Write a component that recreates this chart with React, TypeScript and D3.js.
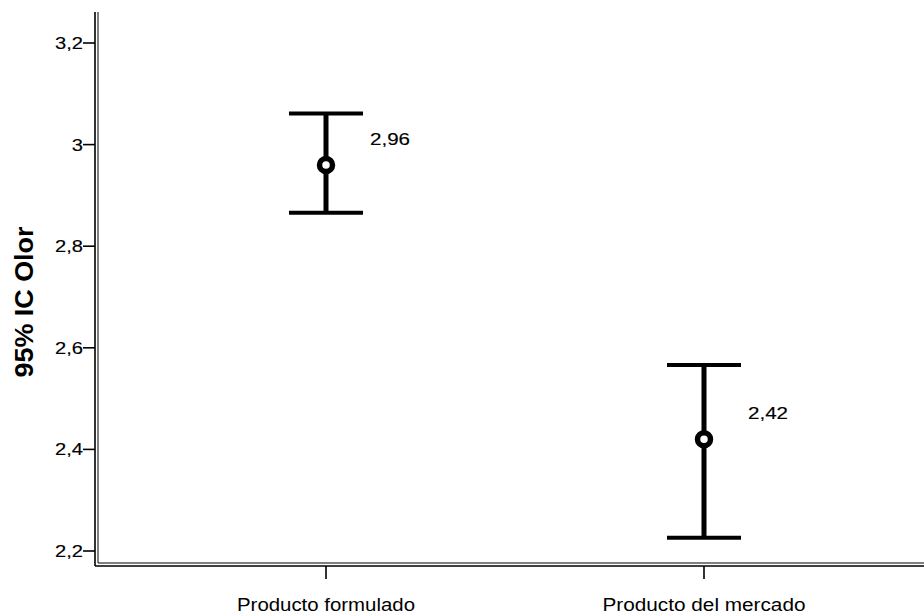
import React, { useEffect, useRef } from 'react';
import * as d3 from 'd3';

const categories = ['Producto formulado', 'Producto del mercado'];
const means = [2.96, 2.42];
const upper = [3.061, 2.566];
const lower = [2.866, 2.226];
const yTicks = [2.2, 2.4, 2.6, 2.8, 3.0, 3.2];

const FONT = 'Arial, "Liberation Sans", sans-serif';

export default function App() {
  const ref = useRef<SVGSVGElement>(null);

  useEffect(() => {
    const svg = d3.select(ref.current);
    svg.selectAll('*').remove();

    const W = 924;
    const axisX = 97;
    const axisY = 565;
    const top = 12;

    const y = d3.scaleLinear().domain([2.2, 3.2]).range([551, 43]);
    const x = d3.scalePoint<string>().domain(categories).range([137, 893]).padding(0.5);

    const g = svg.append('g');

    // stretch text to a target width (the scanned original has wide glyphs)
    const fitTo = (t: d3.Selection<SVGTextElement, unknown, null, undefined>, w: number) => {
      t.attr('textLength', w).attr('lengthAdjust', 'spacingAndGlyphs');
    };
    const widen = (t: d3.Selection<SVGTextElement, unknown, null, undefined>, k: number) => {
      fitTo(t, t.node()!.getComputedTextLength() * k);
    };

    // axes (double lines)
    g.append('line').attr('x1', axisX - 2).attr('x2', axisX - 2).attr('y1', top).attr('y2', axisY + 1)
      .attr('stroke', '#000').attr('stroke-width', 1.6);
    g.append('line').attr('x1', axisX + 1).attr('x2', axisX + 1).attr('y1', top).attr('y2', axisY - 2)
      .attr('stroke', '#000').attr('stroke-width', 1);
    g.append('line').attr('x1', axisX - 2).attr('x2', W).attr('y1', axisY + 1).attr('y2', axisY + 1)
      .attr('stroke', '#000').attr('stroke-width', 1.6);
    g.append('line').attr('x1', axisX + 1).attr('x2', W).attr('y1', axisY - 2).attr('y2', axisY - 2)
      .attr('stroke', '#000').attr('stroke-width', 1);

    // y ticks
    const fmt = (d: number) => (Number.isInteger(d) ? String(d) : d.toFixed(1).replace('.', ','));
    yTicks.forEach((t) => {
      g.append('line').attr('x1', axisX - 14).attr('x2', axisX - 2).attr('y1', y(t)).attr('y2', y(t))
        .attr('stroke', '#000').attr('stroke-width', 1.6);
      const lab = g.append('text').attr('x', axisX - 14).attr('y', y(t) + 6)
        .attr('text-anchor', 'end').attr('font-family', FONT)
        .attr('stroke', '#000').attr('stroke-width', 0.15)
        .attr('font-size', 16.5).text(fmt(t));
      widen(lab, 1.22);
    });

    // x ticks
    categories.forEach((c) => {
      g.append('line').attr('x1', x(c)!).attr('x2', x(c)!).attr('y1', axisY + 1).attr('y2', axisY + 14)
        .attr('stroke', '#000').attr('stroke-width', 1.6);
      const lab = g.append('text').attr('x', x(c)!).attr('y', 611).attr('text-anchor', 'middle')
        .attr('font-family', FONT).attr('font-size', 17.5).text(c);
      fitTo(lab, c === categories[0] ? 178 : 203);
    });

    // y label
    const yl = g.append('text')
      .attr('transform', `translate(33, ${302}) rotate(-90)`)
      .attr('text-anchor', 'middle')
      .attr('font-family', FONT)
      .attr('font-weight', 'bold').attr('font-size', 25)
      .text('95% IC Olor');
    fitTo(yl, 151);

    // error bars
    categories.forEach((c, i) => {
      const cx = x(c)!;
      g.append('line').attr('x1', cx).attr('x2', cx).attr('y1', y(upper[i])).attr('y2', y(lower[i]))
        .attr('stroke', '#000').attr('stroke-width', 5);
      [upper[i], lower[i]].forEach((v) => {
        g.append('line').attr('x1', cx - 37).attr('x2', cx + 37).attr('y1', y(v)).attr('y2', y(v))
          .attr('stroke', '#000').attr('stroke-width', 4);
      });
      g.append('circle').attr('cx', cx).attr('cy', y(means[i])).attr('r', 6.5)
        .attr('fill', '#fff').attr('stroke', '#000').attr('stroke-width', 5.5);
      const vl = g.append('text').attr('x', cx + 44).attr('y', y(means[i]) - 20)
        .attr('font-family', FONT)
        .attr('stroke', '#000').attr('stroke-width', 0.15)
        .attr('font-size', 17).text(means[i].toFixed(2).replace('.', ','));
      fitTo(vl, 40);
    });
  }, []);

  return (
    <div style={{ position: 'absolute', left: 0, top: 0 }}>
      <svg ref={ref} width={924} height={614} style={{ display: 'block', background: '#fff' }} />
    </div>
  );
}
